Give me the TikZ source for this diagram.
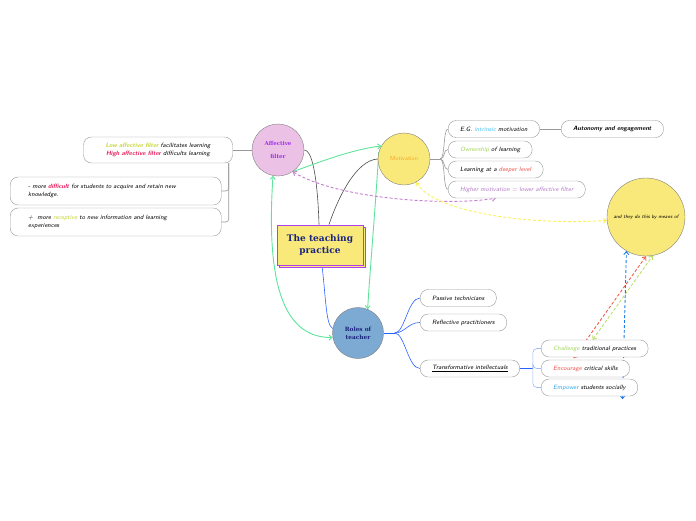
\documentclass[tikz,border=0pt]{standalone}
\usepackage{fontspec}
\usepackage{tikz}
\usetikzlibrary{arrows.meta,shadows,backgrounds}
\newfontfamily\slab{DejaVu Serif}

\definecolor{padyellow}{HTML}{F9E97A}
\definecolor{padpink}{HTML}{EBC2E6}
\definecolor{padblue}{HTML}{7DAAD2}
\definecolor{linkgreen}{HTML}{5EE39A}
\definecolor{linkpurple}{HTML}{C47FD0}
\definecolor{linkyellow}{HTML}{FBEF5A}
\definecolor{linkred}{HTML}{F0604A}
\definecolor{linklime}{HTML}{B8E06A}
\definecolor{linkblue}{HTML}{1E7CE8}
\definecolor{txtlime}{HTML}{C5D633}
\definecolor{txtcrimson}{HTML}{E8185A}
\definecolor{txtsky}{HTML}{4FC3F7}
\definecolor{txtgreen}{HTML}{A4D65E}
\definecolor{txtred}{HTML}{F0524A}
\definecolor{txtpurple}{HTML}{B57AC8}
\definecolor{txtblue}{HTML}{3AA8E8}
\definecolor{titleblue}{HTML}{1A237E}
\definecolor{framepurple}{HTML}{B040F0}
\definecolor{affpurple}{HTML}{A030E8}
\definecolor{motorange}{HTML}{F5A623}
\definecolor{branchblue}{HTML}{2962FF}
\definecolor{lightbranch}{HTML}{9DB8F5}

\tikzset{
  topic/.style={draw=gray!80, fill=white, rounded corners=8pt, inner xsep=12pt,
    inner ysep=0pt, minimum height=17pt, anchor=west,
    font=\fontsize{6.2}{8.5}\selectfont\sffamily\itshape},
  hub/.style={circle, draw=gray, minimum size=52pt, inner sep=1pt, align=center},
  link/.style={line width=0.9pt, >={Straight Barb[length=3pt,width=5pt]}},
  dotlink/.style={link, dash pattern=on 3pt off 2pt}
}

\begin{document}
\begin{tikzpicture}[x=1pt,y=-1pt]
\useasboundingbox (0,0) rectangle (696,520);

\node [draw=framepurple, line width=0.9pt, fill=padyellow, minimum width=86pt, minimum height=40pt,
  align=center, text=titleblue, font=\slab\bfseries\fontsize{9}{12}\selectfont,
  copy shadow={shadow xshift=2.5pt, shadow yshift=-2.5pt, draw=framepurple, fill=padyellow}]
  (cen) at (320,245) {The teaching\\practice};

\node [hub, fill=padpink, text=affpurple, font=\slab\bfseries\fontsize{5.5}{13}\selectfont] (aff) at (278,150) {Affective\\filter};
\node [hub, fill=padyellow, text=motorange, font=\sffamily\fontsize{5.8}{7}\selectfont] (mot) at (404,159) {Motivation};
\node [hub, fill=padblue, minimum size=51pt, text=titleblue, font=\slab\bfseries\fontsize{5.8}{8}\selectfont] (roles) at (358,333) {Roles of\\teacher};
\node [hub, fill=padyellow, minimum size=78pt, font=\sffamily\itshape\fontsize{5}{6}\selectfont] (big) at (646,217) {and they do this by means of};

% affective filter
\node [topic, anchor=center, minimum width=149pt, minimum height=26pt, align=center] (lowhigh) at (158,150)
  {\textcolor{txtlime}{\bfseries Low affective filter} facilitates learning\\
   \textcolor{txtcrimson}{\bfseries High affective filter} difficults learning};
\node [topic, minimum height=28pt, text width=175pt, inner xsep=18pt, align=left] (hard) at (10,191)
  {- more \textcolor{txtcrimson}{\bfseries difficult} for students to acquire and retain new\\knowledge.};
\node [topic, minimum height=28pt, text width=175pt, inner xsep=18pt, align=left] (easy) at (10,222)
  {+\ \ more \textcolor{txtlime}{receptive} to new information and learning\\experiences};

% motivation
\node [topic] (eg) at (448,129) {E.G. \textcolor{txtsky}{intrinsic} motivation};
\node [topic, font=\fontsize{6.2}{8}\selectfont\sffamily\itshape\bfseries] (auto) at (561,129) {Autonomy and engagement};
\node [topic] (own) at (448,149.5) {\textcolor{txtgreen}{Ownership} of learning};
\node [topic] (deep) at (448,169.5) {Learning at a \textcolor{txtred}{deeper level}};
\node [topic, text=txtpurple] (high) at (448,189.5) {Higher motivation = lower affective filter};

% roles of teacher
\node [topic] (pass) at (420,298) {Passive technicians};
\node [topic] (refl) at (420,322.5) {Reflective practitioners};
\node [topic] (trans) at (420,368.5) {\underline{Transformative intellectuals}};
\node [topic] (chal) at (541,348.5) {\textcolor{txtgreen}{Challenge} traditional practices};
\node [topic] (enc) at (541,368.5) {\textcolor{txtred}{Encourage} critical skills};
\node [topic] (emp) at (541,387.5) {\textcolor{txtblue}{Empower} students socially};

\coordinate (lj) at ([xshift=-4pt]lowhigh.south east);
\coordinate (mj) at ([xshift=10pt]mot.east);
\coordinate (rj) at ([xshift=11pt]roles.east);
\coordinate (tj) at ([xshift=13pt]trans.east);

\begin{scope}[on background layer]
\draw [gray!80, line width=0.6pt] (aff.west) -- (lowhigh.east);
\draw [gray!80, line width=0.6pt, rounded corners=3pt] (lj) |- (hard.east);
\draw [gray!80, line width=0.6pt, rounded corners=3pt] (lj) |- (easy.east);

\draw [black!70, line width=0.6pt] ([xshift=-1pt]cen.north) .. controls (318,190) and (314,150) .. (aff.east);
\draw [black!70, line width=0.6pt] ([xshift=9pt]cen.north) .. controls (338,198) and (356,160) .. (mot.west);
\draw [branchblue, line width=0.6pt] ([xshift=2pt]cen.south) .. controls (326,300) and (326,325) .. (roles.170);

\draw [gray!80, line width=0.6pt] (mot.east) -- (mj);
\foreach \t in {eg,own,deep,high}
  \draw [gray!80, line width=0.6pt] (mj) .. controls +(5,0) and +(-5,0) .. (\t.west);
\draw [gray!80, line width=0.6pt] (eg.east) -- (auto.west);

\draw [branchblue, line width=0.6pt] (roles.east) -- (rj);
\foreach \t in {pass,refl,trans}
  \draw [branchblue, line width=0.6pt] (rj) .. controls +(10,0) and +(-12,0) .. (\t.west);
\draw [branchblue, line width=0.6pt] (trans.east) -- (tj);
\foreach \t in {chal,enc,emp}
  \draw [lightbranch, line width=0.6pt, rounded corners=4pt] (tj) |- (\t.west);

% cross links
\draw [link, linkgreen, <->] (aff.-101) .. controls (266,280) and (282,338) .. (roles.190);
\draw [link, linkgreen, ->] (aff.-56) .. controls (320,162) and (350,150) .. (mot.150);
\draw [link, linkgreen, ->] (mot.165) .. controls (376,200) and (370,270) .. (roles.68);
\draw [dotlink, linkpurple, <->] (aff.-56) .. controls (340,200) and (450,206) .. ([xshift=-21pt]high.south);
\draw [dotlink, linkyellow, <->] (mot.-62) .. controls (432,210) and (520,226) .. (big.185);
\draw [dotlink, linklime, <->] ([xshift=-2pt]chal.north) -- (big.-80);
\draw [dotlink, linkred, <->] ([xshift=-12pt,yshift=1.5pt]enc.north) -- (big.south);
\draw [dotlink, linkblue, <->] ([xshift=33pt,yshift=-3pt]emp.south) -- (big.-120);
\end{scope}
\end{tikzpicture}
\end{document}
